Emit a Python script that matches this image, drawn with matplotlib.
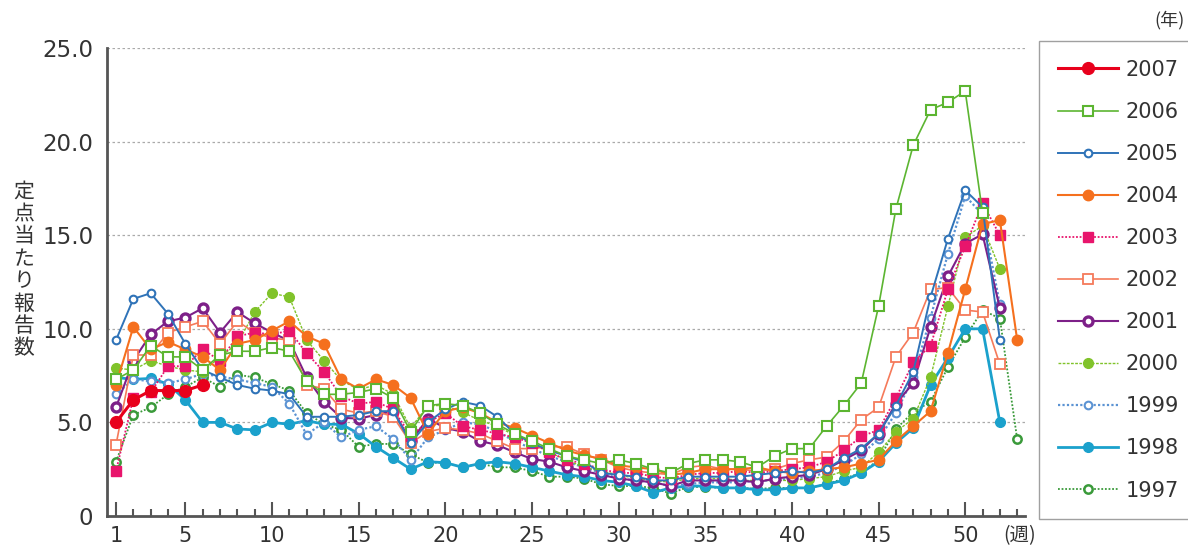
import matplotlib
matplotlib.use("Agg")
import matplotlib.pyplot as plt

plt.rcParams['font.family'] = ['DejaVu Sans', 'Noto Sans CJK JP']

# weekly reports per sentinel, week 1 onward
y2007 = [5.0, 6.2, 6.7, 6.7, 6.7, 7.0]
y2006 = [7.3, 7.8, 9.1, 8.5, 8.5, 7.8, 8.6, 8.8, 8.8, 9.0,
         8.8, 7.2, 6.5, 6.5, 6.6, 6.8, 6.3, 4.5, 5.9, 6.0,
         5.9, 5.5, 4.9, 4.4, 4.0, 3.6, 3.2, 3.0, 2.8, 3.0,
         2.8, 2.5, 2.3, 2.8, 3.0, 3.0, 2.9, 2.6, 3.2, 3.6,
         3.6, 4.8, 5.9, 7.1, 11.2, 16.4, 19.8, 21.7, 22.1, 22.7,
         16.2]
y2005 = [9.4, 11.6, 11.9, 10.8, 9.2, 7.8, 7.4, 7.0, 6.8, 6.7,
         6.5, 5.3, 5.3, 5.3, 5.4, 5.6, 5.6, 3.9, 5.0, 5.7,
         6.1, 5.9, 5.3, 4.4, 3.9, 3.5, 3.2, 2.9, 2.3, 2.2,
         2.1, 1.9, 1.9, 2.1, 2.1, 2.1, 2.1, 2.2, 2.3, 2.4,
         2.3, 2.5, 3.1, 3.6, 4.4, 5.9, 7.7, 11.7, 14.8, 17.4,
         16.5, 9.4]
y2004 = [7.0, 10.1, 8.9, 9.3, 8.9, 8.5, 7.8, 9.2, 9.4, 9.9,
         10.4, 9.6, 9.2, 7.3, 6.8, 7.3, 7.0, 6.3, 4.4, 5.6,
         5.8, 5.5, 5.0, 4.7, 4.3, 3.9, 3.5, 3.25, 3.05, 2.7,
         2.6, 2.5, 2.2, 2.3, 2.5, 2.5, 2.5, 2.6, 2.4, 2.3,
         2.4, 2.5, 2.6, 2.8, 3.0, 4.0, 4.8, 5.6, 8.7, 12.1,
         15.6, 15.8, 9.4]
y2003 = [2.4, 6.3, 6.6, 8.0, 8.0, 8.9, 8.3, 9.6, 9.8, 9.7,
         9.9, 8.7, 7.7, 6.4, 6.0, 6.1, 5.7, 4.3, 5.0, 5.5,
         4.8, 4.6, 4.4, 4.2, 3.9, 3.4, 3.0, 2.8, 2.5, 2.3,
         2.3, 2.1, 2.0, 2.2, 2.3, 2.3, 2.4, 2.3, 2.4, 2.5,
         2.6, 2.9, 3.5, 4.25, 4.6, 6.3, 8.2, 9.1, 12.1, 14.4,
         16.7, 15.0]
y2002 = [3.8, 8.6, 8.6, 9.8, 10.1, 10.4, 9.2, 10.4, 9.8, 9.5,
         9.4, 7.0, 6.8, 5.7, 5.5, 5.6, 5.3, 3.9, 4.5, 4.7,
         4.6, 4.4, 4.0, 3.6, 3.6, 3.7, 3.7, 3.3, 3.0, 2.6,
         2.4, 2.3, 2.2, 2.6, 2.7, 2.5, 2.5, 2.4, 2.5, 2.8,
         3.0, 3.15, 4.0, 5.15, 5.8, 8.5, 9.8, 12.1, 12.2, 11.0,
         10.9, 8.1]
y2001 = [5.8, 8.3, 9.7, 10.4, 10.6, 11.1, 9.8, 10.9, 10.3, 9.8,
         9.35, 7.4, 6.1, 5.25, 5.2, 5.4, 5.6, 4.0, 5.2, 4.7,
         4.5, 4.0, 3.8, 3.4, 3.05, 2.9, 2.6, 2.4, 2.2, 2.0,
         1.9, 1.8, 1.6, 1.9, 1.9, 1.9, 1.9, 1.8, 2.0, 2.1,
         2.2, 2.5, 3.0, 3.5, 4.4, 6.0, 7.1, 10.1, 12.8, 14.55,
         15.05, 11.1]
y2000 = [7.9, 7.8, 8.3, 8.0, 7.8, 7.7, 8.5, 9.2, 10.9, 11.9,
         11.7, 9.4, 8.3, 7.25, 6.75, 7.0, 6.5, 4.7, 5.9, 5.9,
         5.55, 5.1, 4.8, 4.3, 3.9, 3.4, 3.0, 2.6, 2.4, 2.2,
         2.0, 1.9, 1.8, 2.0, 2.0, 2.0, 1.9, 1.9, 1.9, 1.9,
         2.0, 2.1, 2.4, 2.6, 3.4, 4.5, 5.2, 7.4, 11.2, 14.9,
         15.5, 13.2]
y1999 = [6.5, 7.3, 7.2, 7.1, 7.3, 7.6, 7.45, 7.3, 7.1, 6.9,
         6.0, 4.35, 5.0, 4.2, 4.6, 4.8, 4.1, 3.0, 4.2, 4.6,
         5.0, 4.9, 4.5, 4.0, 3.6, 3.2, 2.9, 2.6, 2.3, 2.0,
         1.9, 1.8, 1.6, 1.7, 1.8, 1.8, 1.8, 1.9, 1.9, 2.0,
         2.1, 2.3, 2.7, 3.3, 4.1, 5.5, 7.4, 10.6, 14.0, 17.1,
         16.1, 11.3]
y1998 = [7.4, 7.3, 7.35, 7.05, 6.2, 5.0, 5.0, 4.65, 4.6, 5.0,
         4.9, 5.1, 4.9, 4.9, 4.4, 3.7, 3.1, 2.5, 2.9, 2.85,
         2.6, 2.8, 2.9, 2.8, 2.6, 2.4, 2.2, 2.1, 1.9, 1.8,
         1.6, 1.25, 1.5, 1.6, 1.6, 1.5, 1.5, 1.4, 1.4, 1.5,
         1.5, 1.7, 1.9, 2.3, 2.9, 3.9, 4.7, 7.0, 8.45, 10.0,
         10.0, 5.0]
y1997 = [2.9, 5.4, 5.8, 6.5, 6.9, 7.4, 6.9, 7.55, 7.4, 7.05,
         6.7, 5.5, 4.9, 4.6, 3.7, 3.85, 3.85, 3.3, 2.85, 2.85,
         2.6, 2.8, 2.6, 2.6, 2.4, 2.1, 2.1, 2.0, 1.7, 1.6,
         1.6, 1.5, 1.2, 1.55, 1.55, 1.5, 1.5, 1.45, 1.5, 1.5,
         1.5, 1.7, 2.0, 2.3, 3.0, 4.65, 5.55, 6.1, 7.95, 9.55,
         11.0, 10.55, 4.1]

years = ['2007', '2006', '2005', '2004', '2003', '2002', '2001', '2000', '1999', '1998', '1997']
series = [y2007, y2006, y2005, y2004, y2003, y2002, y2001, y2000, y1999, y1998, y1997]
xtick_labels = ['1', '5', '10', '15', '20', '25', '30', '35', '40', '45', '50']

# color, linestyle, linewidth, marker, markersize, face, edge width
styles = {
    '2007': ('#e8001c', '-', 2.2, 'o', 8.5, None, 1.0),
    '2006': ('#5cb531', '-', 1.2, 's', 7.0, 'white', 1.5),
    '2005': ('#2f73b8', '-', 1.4, 'o', 5.5, 'white', 1.5),
    '2004': ('#f5701e', '-', 1.5, 'o', 7.5, None, 1.0),
    '2003': ('#e8156c', (0, (1, 1)), 1.3, 's', 7.5, None, 1.0),
    '2002': ('#f57a5a', '-', 1.2, 's', 7.5, 'white', 1.3),
    '2001': ('#7d2088', '-', 1.5, 'o', 6.5, 'white', 2.4),
    '2000': ('#80c32a', (0, (2, 1)), 1.0, 'o', 7.0, None, 1.0),
    '1999': ('#5b93d3', (0, (1, 1)), 1.6, 'o', 5.5, 'white', 1.5),
    '1998': ('#1ba1cc', '-', 2.0, 'o', 7.0, None, 1.0),
    '1997': ('#3a9a3a', (0, (1, 1)), 1.3, 'o', 6.0, 'white', 1.8),
}

fig = plt.figure(figsize=(11.88, 5.47), dpi=100)
ax = fig.add_axes([107 / 1188, 1 - 516 / 547, (1025 - 107) / 1188, (516 - 48) / 547])

handles = []
for i, (yr, vals) in enumerate(zip(years, series)):
    c, ls, lw, mk, ms, face, mew = styles[yr]
    weeks = list(range(1, len(vals) + 1))
    h, = ax.plot(weeks, vals, color=c, linestyle=ls, linewidth=lw, marker=mk,
                 markersize=ms, markerfacecolor=face if face else c,
                 markeredgecolor=c, markeredgewidth=mew, zorder=20 - i, label=yr)
    handles.append(h)

major_weeks = [1, 5, 10, 15, 20, 25, 30, 35, 40, 45, 50]
ax.set_xlim(0.48, 53.45)
ax.set_ylim(0, 25)
ax.set_xticks(major_weeks)
ax.set_xticklabels(xtick_labels)
ax.set_xticks([w for w in range(1, 54) if w not in major_weeks], minor=True)
ax.set_yticks([0, 5, 10, 15, 20, 25])
ax.set_yticklabels(['0', '5.0', '10.0', '15.0', '20.0', '25.0'])

ax.tick_params(axis='x', which='major', direction='in', length=10, width=1.5, color='#555',
               labelsize=15, pad=7, labelcolor='#333')
ax.tick_params(axis='x', which='minor', direction='in', length=5, width=1.5, color='#555')
ax.tick_params(axis='y', length=0, labelsize=16.5, pad=10, labelcolor='#333')

for s in ['top', 'right']:
    ax.spines[s].set_visible(False)
for s in ['left', 'bottom']:
    ax.spines[s].set_color('#555')
    ax.spines[s].set_linewidth(2)

for v in [5, 10, 15, 20, 25]:
    ax.axhline(v, color='#aaaaaa', linestyle=(0, (2, 2)), linewidth=0.9, zorder=0)

leg = ax.legend(handles=handles, loc='upper left', bbox_to_anchor=(1039 / 1188, 1 - 41 / 547),
                bbox_transform=fig.transFigure, fontsize=15, frameon=True, fancybox=False,
                edgecolor='#a0a0a0', framealpha=1, handlelength=2.9, handletextpad=0.35,
                labelspacing=1.06, borderpad=0.9, borderaxespad=0)
leg.get_frame().set_linewidth(1)
for t in leg.get_texts():
    t.set_color('#333')

fig.text(24 / 1188, 1 - 270 / 547, '\n'.join('定点当たり報告数'), ha='center', va='center',
         fontsize=15, linespacing=1.02, color='#333', family=['Noto Sans CJK JP'])
fig.text(1170 / 1188, 1 - 20 / 547, '(年)', ha='center', va='center', fontsize=13,
         color='#333', family=['Noto Sans CJK JP'])
fig.text(1020 / 1188, 1 - 536 / 547, '(週)', ha='center', va='center', fontsize=14,
         color='#333', family=['Noto Sans CJK JP'])

fig.savefig('out.png', dpi=100)
